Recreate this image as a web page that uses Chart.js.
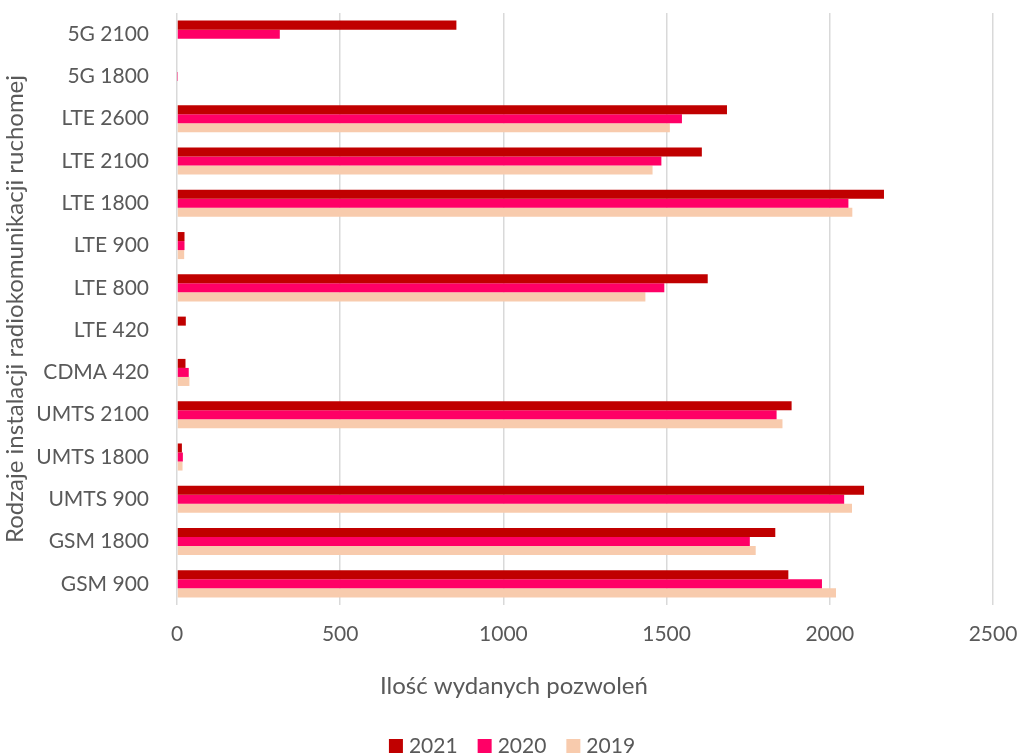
<!DOCTYPE html>
<html>
<head>
<meta charset="utf-8">
<script src="https://cdn.jsdelivr.net/npm/chart.js@4"></script>
<style>
  html, body { margin: 0; padding: 0; background: #fff; }
  #wrap { width: 1020px; height: 754px; }
</style>
</head>
<body>
<div id="wrap"><canvas id="permitsChart"></canvas></div>
<script>
// Categories, top to bottom as in the picture
const categories = ['5G 2100', '5G 1800', 'LTE 2600', 'LTE 2100', 'LTE 1800', 'LTE 900', 'LTE 800',
                    'LTE 420', 'CDMA 420', 'UMTS 2100', 'UMTS 1800', 'UMTS 900', 'GSM 1800', 'GSM 900'];

// Values (approximate)
const values2021 = [856, 0, 1685, 1608, 2166, 23, 1626, 27, 26, 1883, 15, 2105, 1833, 1873];
const values2020 = [315, 1, 1547, 1484, 2057, 23, 1493, 0, 36, 1837, 18, 2044, 1755, 1976];
const values2019 = [0, 0, 1510, 1457, 2069, 22, 1435, 0, 38, 1855, 17, 2068, 1773, 2019];

const xTicks = [0, 500, 1000, 1500, 2000, 2500];
const xTitle = 'Ilość wydanych pozwoleń';
const yTitle = 'Rodzaje instalacji radiokomunikacji ruchomej';

const textColor = '#595959';
const fontFamily = 'Lato, "Open Sans", sans-serif';
const fontSize = 21;

// Excel-style x title (centered on the whole chart) and legend below it
const bottomTextPlugin = {
    id: 'bottomText',
    afterDraw: function(chart) {
        const c = chart.ctx;
        c.save();
        c.fillStyle = textColor;
        c.textBaseline = 'alphabetic';

        // axis title
        c.font = '24px ' + fontFamily;
        c.textAlign = 'center';
        c.fillText(xTitle, 514, 694);

        // legend
        c.font = fontSize + 'px ' + fontFamily;
        const box = 14, gap = 6, spacing = 20;
        const items = chart.data.datasets.map(ds => ({
            text: ds.label, color: ds.backgroundColor, w: c.measureText(ds.label).width
        }));
        let total = 0;
        items.forEach((it, i) => { total += box + gap + it.w + (i > 0 ? spacing : 0); });
        let x = 512 - total / 2;
        c.textAlign = 'left';
        items.forEach(it => {
            c.fillStyle = it.color;
            c.fillRect(x, 739, box, box);
            x += box + gap;
            c.fillStyle = textColor;
            c.fillText(it.text, x, 753);
            x += it.w + spacing;
        });
        c.restore();
    }
};

const ctx = document.getElementById('permitsChart').getContext('2d');
new Chart(ctx, {
    type: 'bar',
    data: {
        labels: categories,
        datasets: [
            { label: '2021', data: values2021, backgroundColor: '#C00000' },
            { label: '2020', data: values2020, backgroundColor: '#FF0066' },
            { label: '2019', data: values2019, backgroundColor: '#F8CBAD' }
        ]
    },
    options: {
        indexAxis: 'y',
        responsive: true,
        maintainAspectRatio: false,
        animation: false,
        layout: { padding: { top: 13, right: 27, left: 0, bottom: 0 } },
        datasets: { bar: { categoryPercentage: 0.64, barPercentage: 1.0 } },
        scales: {
            x: {
                min: 0,
                max: 2500,
                afterBuildTicks: function(scale) {
                    scale.ticks = xTicks.map(v => ({ value: v }));
                },
                afterFit: function(scale) {
                    scale.height = 149;
                    scale.paddingLeft = 0;
                    scale.paddingRight = 0;
                },
                grid: { color: '#D9D9D9', lineWidth: 1.5, drawTicks: false },
                border: { display: false },
                ticks: {
                    color: textColor, padding: 17,
                    font: { family: fontFamily, size: fontSize },
                    callback: function(value) { return String(value); }
                }
            },
            y: {
                afterFit: function(scale) {
                    scale.width = 177;
                    scale.paddingTop = 0;
                    scale.paddingBottom = 0;
                },
                grid: { display: false },
                border: { display: false },
                ticks: { color: textColor, padding: 20, font: { family: fontFamily, size: fontSize } },
                title: {
                    display: true,
                    text: yTitle,
                    color: textColor,
                    padding: { top: 1, bottom: 0 },
                    font: { family: fontFamily, size: 24 }
                }
            }
        },
        plugins: {
            legend: { display: false },
            tooltip: { enabled: false }
        }
    },
    plugins: [bottomTextPlugin]
});
</script>
</body>
</html>
